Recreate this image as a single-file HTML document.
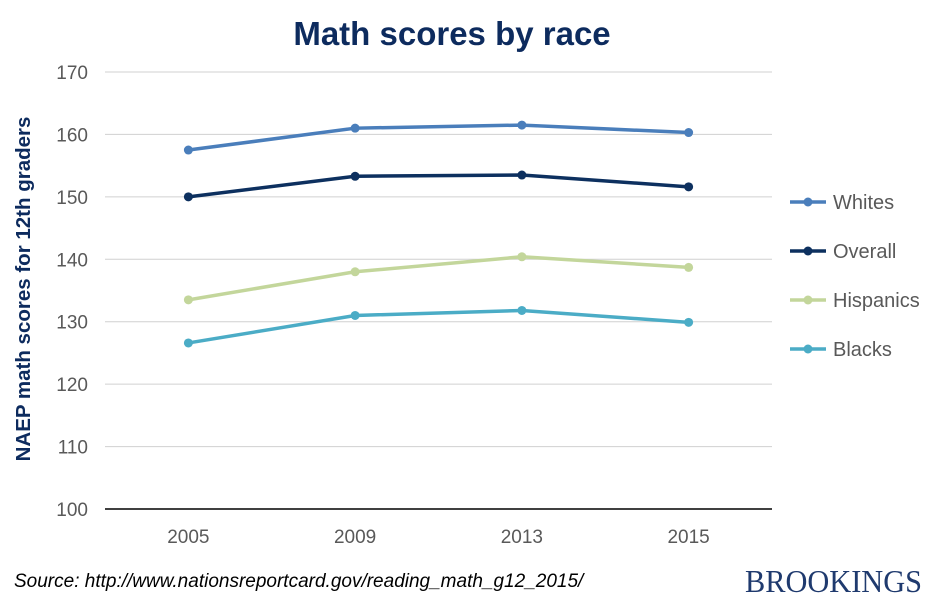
<!DOCTYPE html>
<html><head><meta charset="utf-8"><style>
body{margin:0;background:#fff;font-family:"Liberation Sans",Arial,sans-serif;}
</style></head><body>
<svg width="930" height="602" viewBox="0 0 930 602" xmlns="http://www.w3.org/2000/svg">
<text x="452" y="45" text-anchor="middle" font-size="33" font-weight="bold" fill="#0d2b5e" font-family="Liberation Sans, sans-serif">Math scores by race</text>
<g id="grid"></g>
<g id="series"></g>
<g id="legend"></g>
<text transform="translate(30,289) rotate(-90)" text-anchor="middle" font-size="20.5" font-weight="bold" fill="#0d2b5e">NAEP math scores for 12th graders</text>
<text x="14" y="587" font-size="19" font-style="italic" fill="#000">Source: http://www.nationsreportcard.gov/reading_math_g12_2015/</text>
<text x="745" y="592" textLength="177" lengthAdjust="spacingAndGlyphs" font-size="32" fill="#1f3a6e" font-family="Liberation Serif, serif">BROOKINGS</text>
</svg>
<script>
const categories=["2005","2009","2013","2015"];
const yTicks=[100,110,120,130,140,150,160,170];
const seriesNames=["Whites","Overall","Hispanics","Blacks"];
const whites=[157.5,161.0,161.5,160.3];
const overall=[150.0,153.3,153.5,151.6];
const hispanics=[133.5,138.0,140.4,138.7];
const blacks=[126.6,131.0,131.8,129.9];
const colors=["#4a7ebb","#0d305f","#c3d69b","#4bacc6"];
const values=[whites,overall,hispanics,blacks];
const NS="http://www.w3.org/2000/svg";
const x0=105,x1=772,y0=509,y1=72;
const yS=v=>y0-(v-100)/70*(y0-y1);
const xS=i=>x0+(i+0.5)*(x1-x0)/categories.length;
function mk(t,a,p){const e=document.createElementNS(NS,t);for(const k in a)e.setAttribute(k,a[k]);p.appendChild(e);return e;}
const grid=document.getElementById('grid');
yTicks.forEach(t=>{
 const l=mk('line',{x1:x0,x2:x1,y1:yS(t),y2:yS(t),stroke:t===100?'#000':'#d0d0d0','stroke-width':t===100?1.5:1},grid);
 
 
 const tx=mk('text',{x:88,y:yS(t)+7,'text-anchor':'end','font-size':19,fill:'#595959'},grid);
 tx.textContent=t;
 
 
});
categories.forEach((c,i)=>{
 const tx=mk('text',{x:xS(i),y:543,'text-anchor':'middle','font-size':19,fill:'#595959'},grid);
 tx.textContent=c;
 
 
});
const sg=document.getElementById('series');
values.forEach((vals,s)=>{
 const pl=mk('polyline',{points:vals.map((v,i)=>xS(i)+','+yS(v)).join(' '),fill:'none',stroke:colors[s],'stroke-width':3.5},sg);
 
 
 vals.forEach((v,i)=>{
  const c=mk('circle',{cx:xS(i),cy:yS(v),r:4.5,fill:colors[s]},sg);
  
  
 });
});
const lg=document.getElementById('legend');
seriesNames.forEach((n,s)=>{
 const y=202+s*49;
 const l=mk('line',{x1:790,x2:826,y1:y,y2:y,stroke:colors[s],'stroke-width':3.5},lg);
 
 
 const c=mk('circle',{cx:808,cy:y,r:4.5,fill:colors[s]},lg);
 
 
 const t=mk('text',{x:833,y:y+7,'font-size':20,fill:'#595959'},lg);
 t.textContent=n;
 
 
});
</script>
</body></html>
